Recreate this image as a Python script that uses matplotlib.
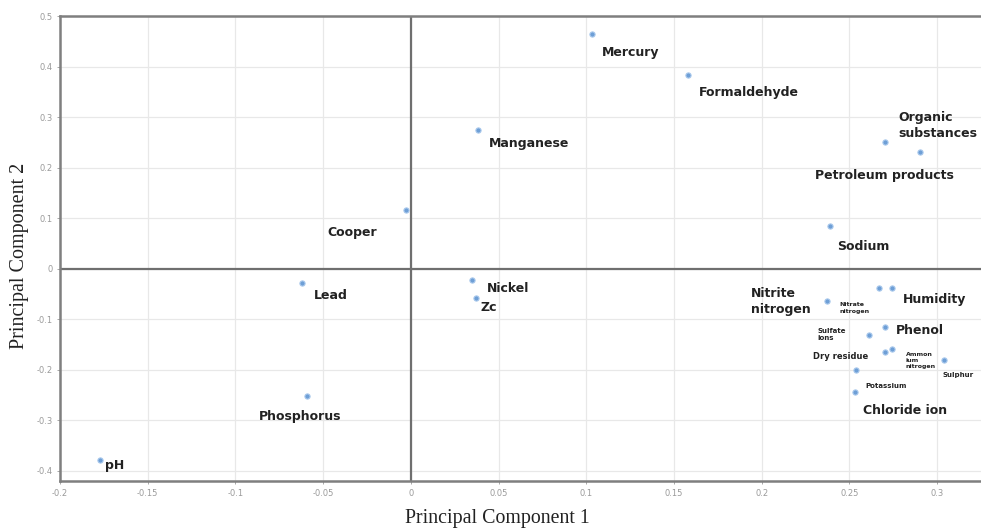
import matplotlib.pyplot as plt
from matplotlib import font_manager

# PCA loadings of the water quality indicators
names = ['Mercury', 'Formaldehyde', 'Manganese', 'Cooper', 'Organic\nsubstances',
         'Petroleum products', 'Sodium', 'Lead', 'Nickel', 'Zc', 'Phosphorus', 'pH',
         'Nitrite\nnitrogen', 'Nitrate\nnitrogen', 'Humidity', 'Sulfate\nions', 'Phenol',
         'Ammon\nium\nnitrogen', 'Dry residue', 'Sulphur', 'Potassium', 'Chloride ion']
pc1 = [0.103, 0.158, 0.038, -0.003, 0.270,
       0.290, 0.239, -0.062, 0.035, 0.037, -0.059, -0.177,
       0.267, 0.237, 0.274, 0.261, 0.270,
       0.274, 0.270, 0.304, 0.254, 0.253]
pc2 = [0.464, 0.384, 0.274, 0.116, 0.250,
       0.230, 0.084, -0.028, -0.022, -0.058, -0.252, -0.378,
       -0.038, -0.064, -0.038, -0.132, -0.116,
       -0.158, -0.164, -0.180, -0.200, -0.244]

x_ticks = [-0.2, -0.15, -0.1, -0.05, 0, 0.05, 0.1, 0.15, 0.2, 0.25, 0.3]
y_ticks = [-0.4, -0.3, -0.2, -0.1, 0, 0.1, 0.2, 0.3, 0.4, 0.5]

# label placement: (dx, dy) in pixels, horizontal alignment, font size
label_pos = {
    'Mercury': (10, -18, 'left', 9),
    'Formaldehyde': (11, -18, 'left', 9),
    'Manganese': (11, -13, 'left', 9),
    'Cooper': (-29, -22, 'right', 9),
    'Organic\nsubstances': (14, 17, 'left', 9),
    'Petroleum products': (-35, -23, 'center', 9),
    'Sodium': (7, -20, 'left', 9),
    'Lead': (12, -13, 'left', 9),
    'Nickel': (15, -9, 'left', 9),
    'Zc': (5, -9, 'left', 9),
    'Phosphorus': (-7, -20, 'center', 9),
    'pH': (5, -6, 'left', 9),
    'Nitrite\nnitrogen': (-128, -14, 'left', 9),
    'Nitrate\nnitrogen': (13, -7, 'left', 4.5),
    'Humidity': (11, -12, 'left', 9),
    'Sulfate\nions': (-51, 1, 'left', 5),
    'Phenol': (11, -3, 'left', 9),
    'Ammon\nium\nnitrogen': (14, -12, 'left', 4.5),
    'Dry residue': (-16, -5, 'right', 6),
    'Sulphur': (-2, -15, 'left', 5),
    'Potassium': (9, -16, 'left', 5),
    'Chloride ion': (8, -18, 'left', 9),
}

installed = {f.name for f in font_manager.fontManager.ttflist}
label_font = 'Liberation Sans Narrow' if 'Liberation Sans Narrow' in installed else 'DejaVu Sans'


def fmt(v):
    s = ('%.2f' % v).rstrip('0').rstrip('.')
    return '0' if s in ('-0', '0') else s


fig = plt.figure(figsize=(9.81, 5.29), dpi=100)
ax = fig.add_axes([60 / 981, 48 / 529, 921 / 981, 465 / 529])

ax.set_xlim(-0.2, 0.325)
ax.set_ylim(-0.42, 0.5)
ax.set_xticks(x_ticks)
ax.set_xticklabels([fmt(v) for v in x_ticks])
ax.set_yticks(y_ticks)
ax.set_yticklabels([fmt(v) for v in y_ticks])
ax.tick_params(colors='#9a9a9a', labelsize=6, length=2, width=0.6)
ax.grid(True, color='#e8e8e8', linewidth=0.9)
ax.set_axisbelow(True)

for side in ['left', 'bottom', 'top']:
    ax.spines[side].set_color('#7f7f7f')
    ax.spines[side].set_linewidth(1.8)
ax.spines['right'].set_visible(False)

ax.axhline(0, color='#6f6f6f', linewidth=1.6, zorder=1)
ax.axvline(0, color='#6f6f6f', linewidth=1.6, zorder=1)

ax.scatter(pc1, pc2, s=14, color='#6e9fd6', edgecolors='#a9c8ec', linewidths=0.8, zorder=3)

for n, x, y in zip(names, pc1, pc2):
    dx, dy, ha, fs = label_pos[n]
    ax.annotate(n, (x, y), xytext=(dx, dy), textcoords='offset pixels',
                ha=ha, va='center', fontsize=fs, fontweight='bold',
                family=label_font, color='#222222', linespacing=1.3,
                multialignment='left')

# axis titles
fig.text(497 / 981, 1 - 519 / 529, 'Principal Component 1', family='Liberation Serif',
         fontsize=14.3, ha='center', va='center', color='#222222')
fig.text(20 / 981, 1 - 256 / 529, 'Principal Component 2', family='Liberation Serif',
         fontsize=14.5, ha='center', va='center', rotation=90, color='#222222')

fig.savefig('out.png', dpi=100)
